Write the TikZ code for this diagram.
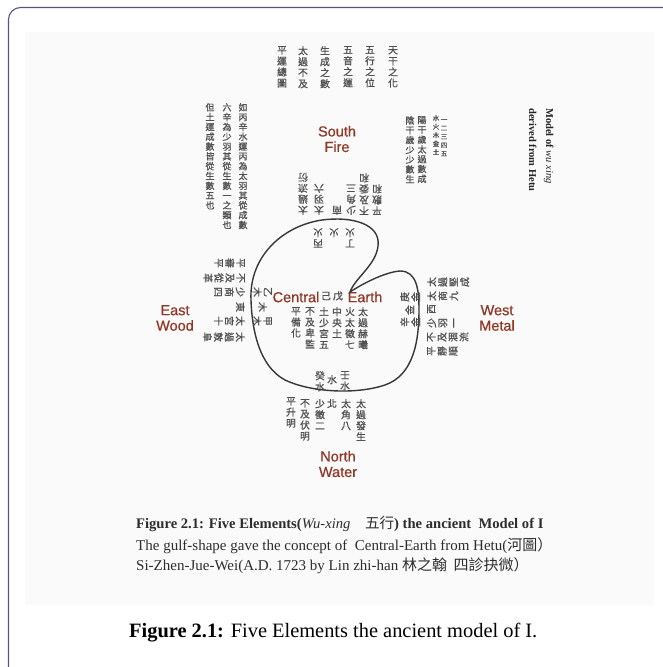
\documentclass[tikz,border=0pt]{standalone}
\usepackage{fontspec}
\setmainfont{Liberation Serif}
\newfontfamily\sansf[FakeBold=0.6]{Liberation Sans}
\newfontfamily\cjk{Noto Sans CJK TC}
\newfontfamily\cjkm[FakeBold=0.9]{Noto Sans CJK TC}
\definecolor{framec}{RGB}{88,82,140}
\definecolor{lbl}{RGB}{145,55,38}
\definecolor{hanzi}{RGB}{80,80,80}
\definecolor{capc}{RGB}{45,45,45}
\definecolor{bggray}{RGB}{250,250,250}
\definecolor{loopc}{RGB}{55,55,55}
\makeatletter
\newcommand\vstk[1]{\vst@k#1\@nil}
\def\vst@k#1#2\@nil{#1\ifx\relax#2\relax\else\\\vst@k#2\@nil\fi}
\makeatother
\tikzset{
  hz/.style={font=\cjkm\fontsize{9.8}{11}\selectfont, text=hanzi, align=center, inner sep=0pt},
  hzs/.style={font=\cjkm\fontsize{9}{9.8}\selectfont, text=hanzi, align=center, inner sep=0pt},
  hzt/.style={font=\cjkm\fontsize{6.5}{8.5}\selectfont, text=hanzi, align=center, inner sep=0pt},
  el/.style={font=\sansf\fontsize{14.5}{15.5}\selectfont, text=lbl, align=center, inner sep=0pt},
  capt/.style={font=\fontsize{15}{17}\selectfont, text=capc, inner sep=0pt},
  capb/.style={font=\fontsize{14.6}{17}\selectfont, text=capc, inner sep=0pt},
  side/.style={font=\fontsize{10.5}{12}\selectfont, text=black!85, inner sep=0pt},
}
\begin{document}
\begin{tikzpicture}[x=1pt,y=-1pt]
\useasboundingbox (0,0) rectangle (663,667);
\fill[white] (0,0) rectangle (663,667);
\fill[bggray] (25,32) rectangle (654,605);
\draw[framec, line width=1.1pt, rounded corners=12pt] (8.5,7.5) rectangle (720,720);

% title columns (top)
\node[hz, anchor=north] (t1) at (393,46) {\vstk{天干之化}};
\node[hz, anchor=north] (t2) at (370,46) {\vstk{五行之位}};
\node[hz, anchor=north] (t3) at (348,46) {\vstk{五音之運}};
\node[hz, anchor=north] (t4) at (325,46) {\vstk{生成之數}};
\node[hz, anchor=north] (t5) at (303,46) {\vstk{太過不及}};
\node[hz, anchor=north] (t6) at (282,46) {\vstk{平運總圖}};

% long left columns
\node[hzs, anchor=north] (l1) at (243,103) {\vstk{如丙辛水運丙為太羽其從成數}};
\node[hzs, anchor=north] (l2) at (227,103) {\vstk{六辛為少羽其從生數一之類也}};
\node[hzs, anchor=north] (l3) at (210,103) {\vstk{但土運成數皆從生數五也}};

% right columns
\node[hzt, anchor=north] (r0) at (436,115) {\vstk{水火木金土}};
\node[hzt, anchor=north] (r0b) at (444,119) {\vstk{一二三四五}};
\node[hzs, anchor=north] (r1) at (422,116) {\vstk{陽干歲太過數成}};
\node[hzs, anchor=north] (r2) at (410,116) {\vstk{陰干歲少少數生}};

% side title
\node[side, rotate=-90, anchor=base west] (m1) at (546,108) {\textbf{Model of} \textit{wu xing}};
\node[side, rotate=-90, anchor=base west] (m2) at (529,108) {\textbf{derived from Hetu}};

% element labels
\node[el] (south) at (337,139) {South\\Fire};
\node[el] (east) at (175,318) {East\\Wood};
\node[el] (west) at (497,318) {West\\Metal};
\node[el] (north) at (338,464) {North\\Water};
\node[el] (central) at (296,297) {Central};
\node[el] (earth) at (365,297) {Earth};
\node[hz] (ji) at (326,296) {己};
\node[hz] (wu) at (338,296) {戊};

% the gulf-shaped loop
\draw[loopc, line width=1.4pt] (251,300) .. controls (249,257) and (282,226) .. (322,220)
  .. controls (352,216) and (381,224) .. (378,246)
  .. controls (376,265) and (355,278) .. (350,292)
  .. controls (362,284) and (385,272) .. (400,271)
  .. controls (417,271) and (419,290) .. (419,310)
  .. controls (419,340) and (414,375) .. (385,385)
  .. controls (355,395) and (310,392) .. (285,380)
  .. controls (259,366) and (252,330) .. (251,300) -- cycle;

% south (upside down)
\node[hz, rotate=180, anchor=north] (s1) at (303,215) {\vstk{太過流衍}};
\node[hz, rotate=180, anchor=north] (s2) at (319,215) {\vstk{太羽六}};
\node[hz, rotate=180, anchor=north] (s3) at (337,215) {\vstk{南}};
\node[hz, rotate=180, anchor=north] (s4) at (351,215) {\vstk{少角三}};
\node[hz, rotate=180, anchor=north] (s5) at (364,215) {\vstk{不及委和}};
\node[hz, rotate=180, anchor=north] (s6) at (377,215) {\vstk{平敷和}};
\node[hz, rotate=180, anchor=south] (si1) at (318,228) {\vstk{丙火}};
\node[hz, rotate=180, anchor=south] (si2) at (334,228) {\vstk{火}};
\node[hz, rotate=180, anchor=south] (si3) at (350,228) {\vstk{丁火}};

% central columns
\node[hz, anchor=north] (c1) at (296,307) {\vstk{平備化}};
\node[hz, anchor=north] (c2) at (310,307) {\vstk{不及卑監}};
\node[hz, anchor=north] (c3) at (324,307) {\vstk{土少宮五}};
\node[hz, anchor=north] (c4) at (337,307) {\vstk{中央土}};
\node[hz, anchor=north] (c5) at (350,307) {\vstk{火太徵七}};
\node[hz, anchor=north] (c6) at (363,307) {\vstk{太過赫曦}};

% east (rotated, tops towards centre)
\node[hz, rotate=-90, anchor=north] (e1) at (245,263) {\vstk{平審平}};
\node[hz, rotate=-90, anchor=north] (e2) at (245,278) {\vstk{不及從革}};
\node[hz, rotate=-90, anchor=north] (e3) at (245,292) {\vstk{少商四}};
\node[hz, rotate=-90, anchor=north] (e4) at (245,307) {\vstk{東}};
\node[hz, rotate=-90, anchor=north] (e5) at (245,321) {\vstk{太宮十}};
\node[hz, rotate=-90, anchor=north] (e6) at (245,337) {\vstk{太過敦阜}};
\node[hz, rotate=-90, anchor=north] (ei1) at (272,292) {\vstk{乙木}};
\node[hz, rotate=-90, anchor=north] (ei2) at (267,307) {\vstk{木}};
\node[hz, rotate=-90, anchor=north] (ei3) at (272,321) {\vstk{甲木}};

% west (rotated, tops towards centre)
\node[hz, rotate=90, anchor=north] (w1) at (427,282) {\vstk{太過堅成}};
\node[hz, rotate=90, anchor=north] (w2) at (427,296) {\vstk{太商九}};
\node[hz, rotate=90, anchor=north] (w3) at (427,309) {\vstk{西}};
\node[hz, rotate=90, anchor=north] (w4) at (427,323) {\vstk{少羽一}};
\node[hz, rotate=90, anchor=north] (w5) at (427,337) {\vstk{不及涸流}};
\node[hz, rotate=90, anchor=north] (w6) at (427,351) {\vstk{平靜順}};
\node[hz, rotate=90, anchor=north] (wi1) at (400,297) {\vstk{庚金}};
\node[hz, rotate=90, anchor=north] (wi2) at (405,310) {\vstk{金}};
\node[hz, rotate=90, anchor=north] (wi3) at (400,322) {\vstk{辛金}};

% north
\node[hz, anchor=north] (ni1) at (320,371) {\vstk{癸水}};
\node[hz, anchor=north] (ni2) at (332,375) {\vstk{水}};
\node[hz, anchor=north] (ni3) at (345,371) {\vstk{壬水}};
\node[hz, anchor=north] (n1) at (291,397) {\vstk{平升明}};
\node[hz, anchor=north] (n2) at (305,399) {\vstk{不及伏明}};
\node[hz, anchor=north] (n3) at (320,399) {\vstk{少徵二}};
\node[hz, anchor=north] (n4) at (332,399) {\vstk{北}};
\node[hz, anchor=north] (n5) at (346,399) {\vstk{太角八}};
\node[hz, anchor=north] (n6) at (361,399) {\vstk{太過發生}};

% inner caption
\node[capb, anchor=base west] (cap1) at (136,528) {\textbf{Figure 2.1: Five Elements(}\textit{Wu-xing}\quad{\cjk 五行}\textbf{) the ancient \ Model of I}};
\node[capt, anchor=base west] (cap2) at (136,550) {The gulf-shape gave the concept of \ Central-Earth from Hetu({\cjk 河圖）}};
\node[capt, anchor=base west] (cap3) at (136,570) {Si-Zhen-Jue-Wei(A.D. 1723 by Lin zhi-han {\cjk 林之翰 \ 四診抉微）}};

% outer caption
\node[font=\fontsize{20.4}{22}\selectfont, anchor=base west, inner sep=0pt] (fig) at (129,637) {\textbf{Figure 2.1:} Five Elements the ancient model of I.};
\end{tikzpicture}
\end{document}
